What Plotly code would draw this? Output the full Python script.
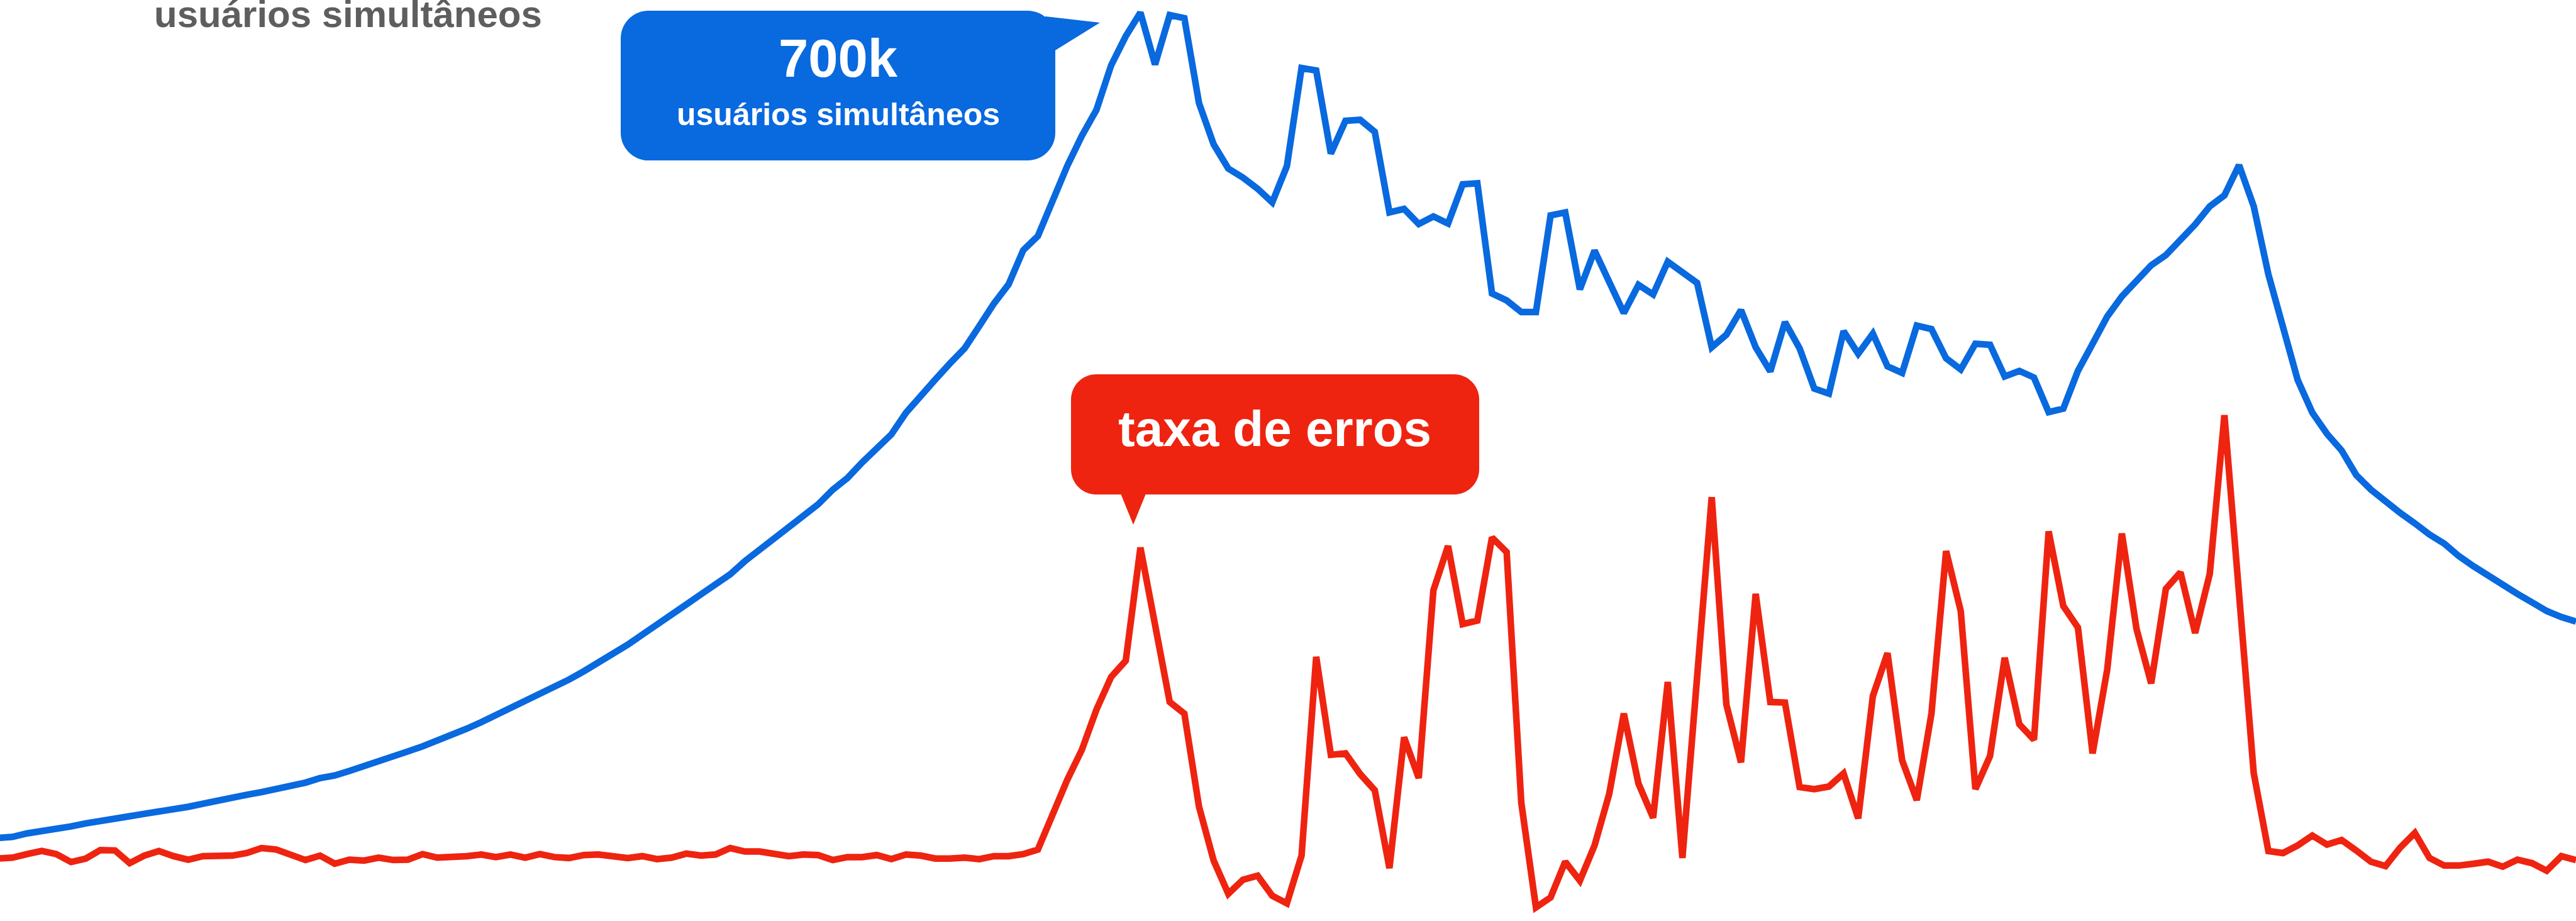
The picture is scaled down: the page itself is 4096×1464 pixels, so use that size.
import plotly.graph_objects as go

# Concurrent users (thousands) per sample
users_k = [
    64.0, 64.8, 67.5, 69.0, 71.0, 72.9, 75.2, 77.2, 79.9, 80.7,
    82.6, 84.2, 86.1, 88.0, 90.4, 92.3, 94.2, 97.3, 99.3, 101.6,
    104.3, 106.6, 110.1, 112.1, 115.6, 119.1, 122.9, 126.4, 130.7, 134.6,
    138.8, 143.5, 148.1, 153.2, 158.6, 163.7, 169.1, 174.9, 180.7, 186.1,
    192.4, 198.9, 205.9, 212.9, 220.7, 228.0, 236.2, 243.9, 251.7, 259.4,
    267.2, 277.3, 285.8, 294.3, 304.0, 312.6, 321.1, 332.4, 341.3, 353.3,
    363.8, 375.0, 391.7, 403.7, 417.3, 429.7, 441.3, 458.4, 475.8, 490.6,
    516.9, 527.8, 554.6, 581.7, 605.0, 625.1, 659.3, 681.8, 700.0, 660.0,
    698.1, 695.7, 630.2, 598.4, 579.8, 572.8, 564.3, 553.8, 581.7, 657.3,
    655.4, 591.4, 616.6, 617.4, 608.1, 546.0, 548.7, 537.1, 542.9, 537.5,
    567.7, 568.5, 483.6, 478.2, 469.2, 469.2, 543.7, 546.0, 486.7, 516.6,
    492.5, 468.5, 490.2, 482.8, 508.0, 500.3, 491.7, 442.1, 451.8, 470.8,
    442.1, 423.5, 461.5, 441.3, 410.3, 406.4, 454.5, 437.1, 452.6, 427.4,
    422.3, 458.8, 456.1, 433.6, 425.0, 444.8, 444.0, 419.6, 423.9, 418.8,
    392.1, 394.8, 423.9, 444.8, 465.8, 481.3, 493.3, 505.3, 513.1, 524.3,
    536.7, 550.7, 559.2, 582.5, 550.7, 498.3, 457.6, 416.9, 391.7, 375.4,
    362.6, 343.6, 332.4, 323.0, 314.5, 306.4, 297.8, 290.9, 281.2, 273.4,
    266.0, 259.1, 252.1, 245.5, 238.9, 234.2, 230.7,
]

# Error rate (%) per sample
errors_pct = [
    0.339, 0.344, 0.363, 0.380, 0.363, 0.320, 0.339, 0.385, 0.383, 0.314,
    0.355, 0.380, 0.352, 0.333, 0.352, 0.352, 0.355, 0.369, 0.396, 0.388,
    0.363, 0.331, 0.355, 0.311, 0.333, 0.328, 0.344, 0.331, 0.333, 0.363,
    0.344, 0.344, 0.352, 0.361, 0.347, 0.361, 0.344, 0.363, 0.347, 0.342,
    0.358, 0.361, 0.355, 0.342, 0.352, 0.336, 0.344, 0.366, 0.355, 0.361,
    0.396, 0.377, 0.377, 0.361, 0.352, 0.361, 0.358, 0.331, 0.347, 0.347,
    0.358, 0.336, 0.361, 0.355, 0.339, 0.339, 0.344, 0.336, 0.352, 0.352,
    0.363, 0.388, 0.587, 0.765, 0.929, 1.148, 1.325, 1.413, 2.027, 1.617,
    1.189, 1.126, 0.620, 0.328, 0.148, 0.224, 0.246, 0.137, 0.096, 0.355,
    1.434, 0.902, 0.910, 0.798, 0.710, 0.287, 0.997, 0.776, 1.795, 2.036,
    1.612, 1.631, 2.082, 2.003, 0.642, 0.074, 0.128, 0.322, 0.219, 0.410,
    0.689, 1.126, 0.746, 0.560, 1.298, 0.342, 1.322, 2.301, 1.175, 0.861,
    1.776, 1.189, 1.186, 0.727, 0.716, 0.730, 0.801, 0.557, 1.221, 1.454,
    0.872, 0.656, 1.126, 2.008, 1.683, 0.716, 0.896, 1.429, 1.068, 0.984,
    2.115, 1.710, 1.593, 0.910, 1.366, 2.104, 1.585, 1.290, 1.803, 1.893,
    1.563, 1.885, 2.746, 1.776, 0.803, 0.380, 0.369, 0.410, 0.464, 0.415,
    0.440, 0.383, 0.322, 0.298, 0.399, 0.478, 0.342, 0.301, 0.301, 0.311,
    0.322, 0.295, 0.333, 0.314, 0.273, 0.352, 0.331,
]

title_label = "usuários simultâneos"
peak_label = "700k"
errors_label = "taxa de erros"

W, H = 4096, 1464
BLUE = "#0969df"
RED = "#ee2410"
GRAY = "#5e5e5e"
FONT = "Liberation Sans"
LINE_W = 10.5

samples = list(range(len(users_k)))


def to_paper(xp, yp):
    return xp / W, 1 - yp / H


def rounded_box_path(x0, y0, x1, y1, r):
    k = 0.5523 * r

    def p(x, y):
        a, b = to_paper(x, y)
        return f"{a:.6f},{b:.6f}"

    return (
        f"M {p(x0 + r, y0)} L {p(x1 - r, y0)} "
        f"C {p(x1 - r + k, y0)} {p(x1, y0 + r - k)} {p(x1, y0 + r)} "
        f"L {p(x1, y1 - r)} "
        f"C {p(x1, y1 - r + k)} {p(x1 - r + k, y1)} {p(x1 - r, y1)} "
        f"L {p(x0 + r, y1)} "
        f"C {p(x0 + r - k, y1)} {p(x0, y1 - r + k)} {p(x0, y1 - r)} "
        f"L {p(x0, y0 + r)} "
        f"C {p(x0, y0 + r - k)} {p(x0 + r - k, y0)} {p(x0 + r, y0)} Z"
    )


def polygon_path(points):
    parts = []
    for i, (x, y) in enumerate(points):
        a, b = to_paper(x, y)
        parts.append(("M " if i == 0 else "L ") + f"{a:.6f},{b:.6f}")
    return " ".join(parts) + " Z"


fig = go.Figure()
fig.add_trace(go.Scatter(
    x=samples, y=users_k, mode="lines", yaxis="y",
    line=dict(color=BLUE, width=LINE_W), hoverinfo="skip", showlegend=False,
))
fig.add_trace(go.Scatter(
    x=samples, y=errors_pct, mode="lines", yaxis="y2",
    line=dict(color=RED, width=LINE_W), hoverinfo="skip", showlegend=False,
))

shapes = [
    # blue callout box with tail pointing to the peak
    dict(type="path", path=rounded_box_path(987, 17, 1678, 255, 44),
         xref="paper", yref="paper", fillcolor=BLUE, line=dict(width=0), layer="above"),
    dict(type="path", path=polygon_path([(1662, 26), (1749, 36), (1678, 80), (1660, 60)]),
         xref="paper", yref="paper", fillcolor=BLUE, line=dict(width=0), layer="above"),
    # red callout box with tail pointing down
    dict(type="path", path=rounded_box_path(1703, 595, 2352, 786, 40),
         xref="paper", yref="paper", fillcolor=RED, line=dict(width=0), layer="above"),
    dict(type="path", path=polygon_path([(1780, 780), (1824, 780), (1802, 834)]),
         xref="paper", yref="paper", fillcolor=RED, line=dict(width=0), layer="above"),
]

annotations = [
    dict(text=title_label, x=243 / W, y=1 - 23 / H, xref="paper", yref="paper",
         xanchor="left", yanchor="middle", showarrow=False,
         font=dict(family=FONT, size=60, color=GRAY, weight=700)),
    dict(text=peak_label, x=1333 / W, y=1 - 92.5 / H, xref="paper", yref="paper",
         xanchor="center", yanchor="middle", showarrow=False,
         font=dict(family=FONT, size=85, color="white", weight=700)),
    dict(text=title_label, x=1333 / W, y=1 - 181.5 / H, xref="paper", yref="paper",
         xanchor="center", yanchor="middle", showarrow=False,
         font=dict(family=FONT, size=50, color="white", weight=700)),
    dict(text=errors_label, x=2027 / W, y=1 - 681 / H, xref="paper", yref="paper",
         xanchor="center", yanchor="middle", showarrow=False,
         font=dict(family=FONT, size=80, color="white", weight=700)),
]

hidden = dict(visible=False, showgrid=False, zeroline=False, fixedrange=True)
fig.update_layout(
    width=W, height=H,
    margin=dict(l=0, r=0, t=0, b=0),
    paper_bgcolor="white", plot_bgcolor="white",
    xaxis=dict(range=[0.15, 176.0], **hidden),
    yaxis=dict(range=[0, 709.7], **hidden),
    yaxis2=dict(range=[0, 5.0], overlaying="y", **hidden),
    shapes=shapes,
    annotations=annotations,
    showlegend=False,
)

fig.write_html("out.html", config={"displayModeBar": False})
